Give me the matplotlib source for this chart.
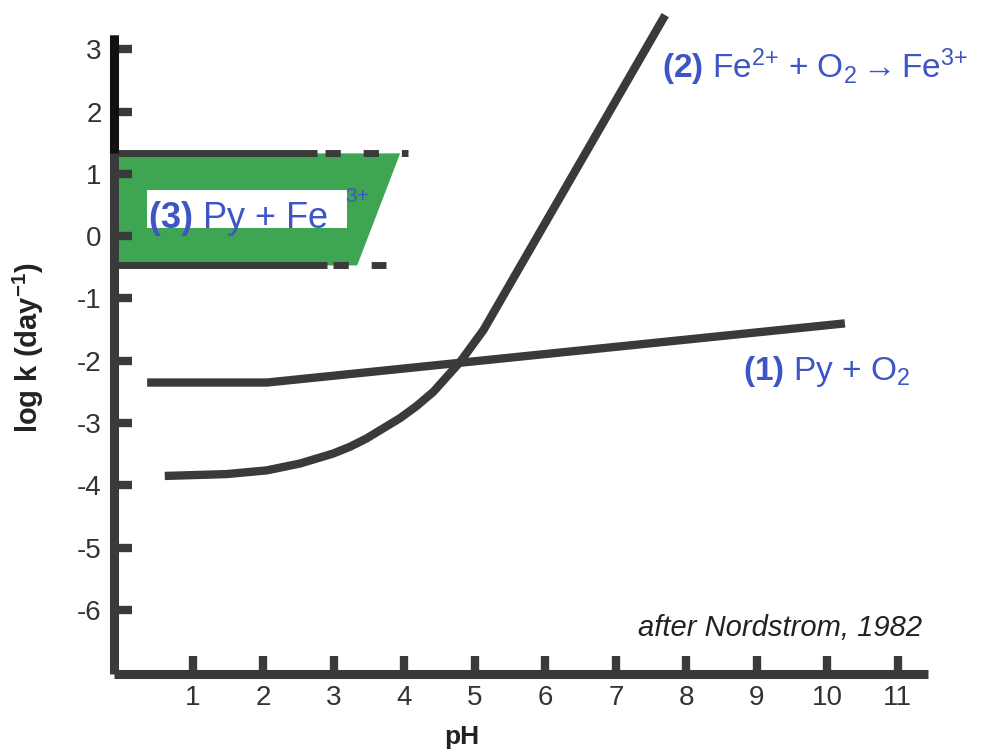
import matplotlib.pyplot as plt

plt.rcParams['font.family'] = ['Liberation Sans', 'DejaVu Sans']
plt.rcParams['mathtext.fontset'] = 'custom'
plt.rcParams['mathtext.rm'] = 'Liberation Sans'
plt.rcParams['mathtext.bf'] = 'Liberation Sans:bold'
plt.rcParams['mathtext.it'] = 'Liberation Sans:italic'
plt.rcParams['axes.unicode_minus'] = False

# (1) pyrite + O2
ph_py_o2 = [0.35, 2.05, 10.25]
logk_py_o2 = [-2.35, -2.35, -1.40]

# (2) Fe2+ + O2 -> Fe3+
ph_fe = [0.60, 1.48, 2.05, 2.52, 2.99, 3.23, 3.46, 3.94, 4.17, 4.41, 4.79, 5.12, 7.70]
logk_fe = [-3.85, -3.82, -3.76, -3.65, -3.49, -3.38, -3.25, -2.92, -2.73, -2.50, -2.02, -1.51, 3.55]

# (3) pyrite + Fe3+ range (trapezoid)
ph_py_fe = [-0.12, 3.94, 3.33, -0.12]
logk_py_fe = [1.33, 1.33, -0.47, -0.47]
band_top, band_bot = 1.33, -0.47
solid_end = [2.76, 2.90]
dash_span = [(2.88, 4.05), (2.98, 3.74)]

xticks = list(range(1, 12))
yticks = list(range(-6, 4))

gray = '#3a3a3a'
blue = '#3d55c6'
green = '#3ea652'

fig = plt.figure(figsize=(9.82, 7.55), dpi=100)
ax = fig.add_axes([0.1161, 0.1073, 0.829, 0.8463])
x0, x1, y0, y1 = -0.12, 11.43, -7.03, 3.23
ax.set_xlim(x0, x1)
ax.set_ylim(y0, y1)

# green band
ax.fill(ph_py_fe, logk_py_fe, color=green, lw=0, zorder=1)
ax.fill([0.35, 3.18, 3.18, 0.35], [0.74, 0.74, 0.13, 0.13], color='white', lw=0, zorder=2)
for y, se, (d0, d1) in zip([band_top, band_bot], solid_end, dash_span):
    ax.plot([x0, se], [y, y], color=gray, lw=5, solid_capstyle='butt', zorder=3)
    ax.plot([d0, d1], [y, y], color=gray, lw=5, linestyle=(0, (2.2, 3.3)),
            dash_capstyle='butt', zorder=3)
# upper part of the y axis is drawn in black in the original
ax.plot([x0, x0], [band_top, y1], color='#111111', lw=6.5, solid_capstyle='butt',
        clip_on=False, zorder=6)

ax.plot(ph_py_o2, logk_py_o2, color=gray, lw=6, solid_capstyle='butt',
        solid_joinstyle='round', zorder=4)
ax.plot(ph_fe, logk_fe, color=gray, lw=6, solid_capstyle='butt',
        solid_joinstyle='round', clip_on=False, zorder=4)

# labels
ax.text(0.36, 0.13, r'$\mathbf{(3)}$ Py + Fe', color=blue, fontsize=26,
        va='baseline', ha='left', zorder=5)
ax.text(3.16, 0.64, '3+', color=blue, fontsize=15, va='center', ha='left', zorder=5)
ax.text(7.65, 2.54, r'$\mathbf{(2)}$ Fe$^{2{+}}$ + O$_2\rightarrow$Fe$^{3{+}}$',
        color=blue, fontsize=24, va='baseline', ha='left', clip_on=False)
ax.text(8.80, -2.31, r'$\mathbf{(1)}$ Py + O$_2$', color=blue, fontsize=24,
        va='baseline', ha='left')
ax.text(11.35, -6.42, 'after Nordstrom, 1982', color='#222222', fontsize=21,
        style='italic', va='baseline', ha='right')

for s in ['top', 'right']:
    ax.spines[s].set_visible(False)
for s in ['left', 'bottom']:
    ax.spines[s].set_color(gray)
    ax.spines[s].set_linewidth(6.5)
    ax.spines[s].set_capstyle('butt')

ax.set_xticks(xticks)
ax.set_yticks(yticks)
ax.tick_params(axis='y', direction='in', length=13, width=6, color=gray, pad=9,
               labelsize=20, labelcolor='#333333')
ax.tick_params(axis='x', direction='in', length=13, width=6, color=gray, pad=8,
               labelsize=20, labelcolor='#333333')

ax.set_xlabel('pH', fontsize=19, fontweight='bold', color='#222222')
ax.xaxis.set_label_coords(0.4275, -0.08)
ax.set_ylabel(r'log k (day$^{\mathbf{-1}}$)', fontsize=21, fontweight='bold', color='#222222')
ax.yaxis.set_label_coords(-0.083, 0.51)

fig.savefig('out.png', dpi=100)
